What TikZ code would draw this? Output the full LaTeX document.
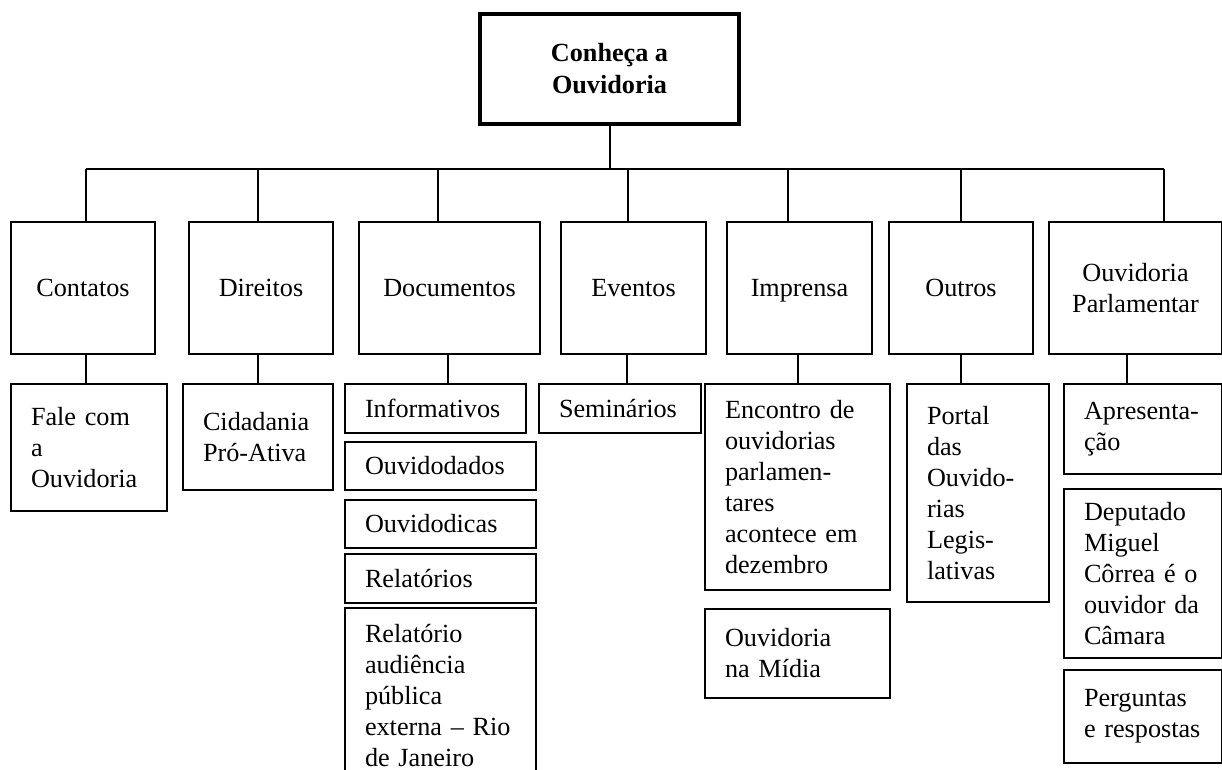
\documentclass[tikz,border=0pt]{standalone}
\usepackage{fontspec}
\setmainfont{Liberation Serif}
\usepackage{tikz}
\usetikzlibrary{calc}

\tikzset{
  linha/.style={line width=2pt},
  raiz/.style={draw,line width=4pt,minimum width=259pt,minimum height=110pt,align=center,font=\bfseries\fontsize{26.2}{32}\selectfont},
  caixa/.style={draw,line width=2pt,anchor=north west,minimum height=132pt,align=center,inner sep=0pt,font=\fontsize{26.2}{31}\selectfont},
  subcaixa/.style={draw,line width=2pt,anchor=north west,align=left,inner xsep=20pt,inner ysep=2pt,font=\fontsize{26.2}{31}\selectfont}
}

\begin{document}
\begin{tikzpicture}[x=1pt,y=-1pt]
	\useasboundingbox (0,0) rectangle (1222,770);
	%caixa principal
	\node[raiz] (raiz) at (609.5,69) {Conheça a\\Ouvidoria};
	
	%categorias
	\node[caixa,minimum width=144pt] (contatos) at (10,221) {Contatos};
	\node[caixa,minimum width=144pt] (direitos) at (188,221) {Direitos};
	\node[caixa,minimum width=181pt] (documentos) at (358,221) {Documentos};
	\node[caixa,minimum width=145pt] (eventos) at (560,221) {Eventos};
	\node[caixa,minimum width=145pt] (imprensa) at (726,221) {\raisebox{0pt}[\height][0pt]{Imprensa}};
	\node[caixa,minimum width=144pt] (outros) at (888,221) {Outros};
	\node[caixa,minimum width=173pt] (ouvparl) at (1048,221) {Ouvidoria\\Parlamentar};
	
	%subitens
	\node[subcaixa,text width=116pt,minimum height=127pt] (fale) at (10,383) {Fale com\\a\\Ouvidoria};
	\node[subcaixa,text width=110pt,minimum height=106pt] (cidadania) at (182,383) {Cidadania\\Pró-Ativa};
	\node[subcaixa,text width=141pt,minimum height=49pt] (informativos) at (344,383) {Informativos};
	\node[subcaixa,text width=151pt,minimum height=48pt] (ouvidodados) at (344,441) {Ouvidodados};
	\node[subcaixa,text width=151pt,minimum height=48pt] (ouvidodicas) at (344,499) {Ouvidodicas};
	\node[subcaixa,text width=151pt,minimum height=49pt] (relatorios) at (344,553) {Relatórios};
	\node[subcaixa,text width=151pt,minimum height=176pt] (audiencia) at (344,607) {Relatório\\audiência\\pública\\externa~–~Rio\\de~Janeiro};
	\node[subcaixa,text width=122pt,minimum height=49pt] (seminarios) at (538,383) {Seminários};
	\node[subcaixa,text width=145pt,minimum height=206pt] (encontro) at (704,383) {Encontro~de\\ouvidorias\\parlamen-\\tares\\acontece~em\\dezembro};
	\node[subcaixa,text width=145pt,minimum height=89pt] (midia) at (704,608) {Ouvidoria\\na Mídia};
	\node[subcaixa,text width=102pt,minimum height=218pt] (portal) at (906,383) {Portal\\das\\Ouvido-\\rias\\Legis-\\lativas};
	\node[subcaixa,text width=118pt,minimum height=90pt] (apresentacao) at (1063,383) {Apresenta-\\ção};
	\node[subcaixa,text width=118pt,minimum height=169pt] (deputado) at (1063,488) {Deputado\\Miguel\\Côrrea~é~o\\ouvidor~da\\Câmara};
	\node[subcaixa,text width=118pt,minimum height=93pt] (perguntas) at (1063,669) {Perguntas\\e~respostas};
	
	%linhas
	\coordinate (b1) at (86,169);
	\coordinate (b2) at (258,169);
	\coordinate (b3) at (438,169);
	\coordinate (b4) at (628,169);
	\coordinate (b5) at (788,169);
	\coordinate (b6) at (961,169);
	\coordinate (b7) at (1164,169);
	\draw[linha] (raiz.south) -- (raiz.south |- b1);
	\draw[linha] (b1) -- (b7);
	\foreach \b/\n in {b1/contatos,b2/direitos,b3/documentos,b4/eventos,b5/imprensa,b6/outros,b7/ouvparl}
		\draw[linha] (\b) -- (\b |- \n.north);
	\foreach \x/\a/\s in {86/contatos/fale,258/direitos/cidadania,448/documentos/informativos,627/eventos/seminarios,798/imprensa/encontro,961/outros/portal,1127/ouvparl/apresentacao}{
		\coordinate (d) at (\x,0);
		\draw[linha] (d |- \a.south) -- (d |- \s.north);
	}
\end{tikzpicture}
\end{document}
